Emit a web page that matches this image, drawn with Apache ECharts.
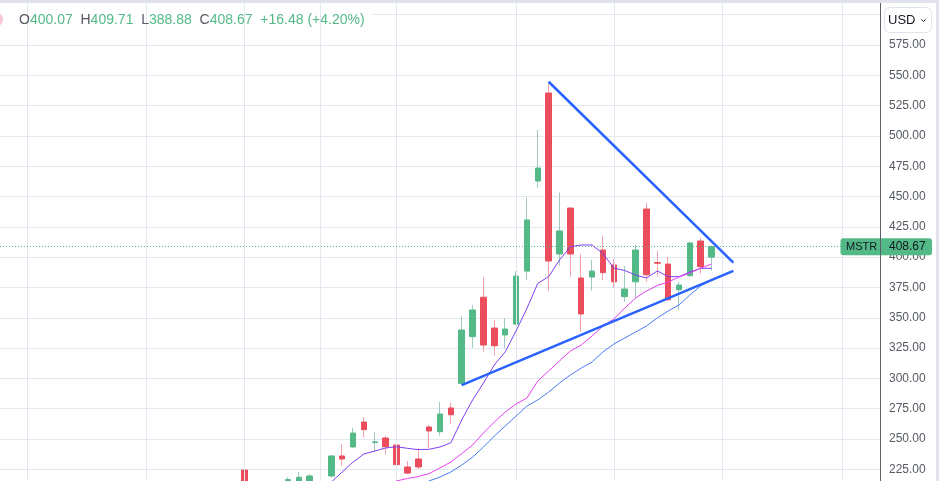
<!DOCTYPE html>
<html>
<head>
<meta charset="utf-8">
<script src="https://cdn.jsdelivr.net/npm/echarts@6/dist/echarts.min.js"></script>
<style>
  html, body { margin: 0; padding: 0; background: #fff; }
  #chart { width: 939px; height: 481px; }
</style>
</head>
<body>
<div id="chart"></div>
<script>
// daily sessions, the last 15 are empty space to the right of the last bar
const dates = [
  "2024-09-12", "2024-09-13", "2024-09-16", "2024-09-17", "2024-09-18", "2024-09-19", "2024-09-20",
  "2024-09-23", "2024-09-24", "2024-09-25", "2024-09-26", "2024-09-27", "2024-09-30", "2024-10-01",
  "2024-10-02", "2024-10-03", "2024-10-04", "2024-10-07", "2024-10-08", "2024-10-09", "2024-10-10",
  "2024-10-11", "2024-10-14", "2024-10-15", "2024-10-16", "2024-10-17", "2024-10-18", "2024-10-21",
  "2024-10-22", "2024-10-23", "2024-10-24", "2024-10-25", "2024-10-28", "2024-10-29", "2024-10-30",
  "2024-10-31", "2024-11-01", "2024-11-04", "2024-11-05", "2024-11-06", "2024-11-07", "2024-11-08",
  "2024-11-11", "2024-11-12", "2024-11-13", "2024-11-14", "2024-11-15", "2024-11-18", "2024-11-19",
  "2024-11-20", "2024-11-21", "2024-11-22", "2024-11-25", "2024-11-26", "2024-11-27", "2024-11-29",
  "2024-12-02", "2024-12-03", "2024-12-04", "2024-12-05", "2024-12-06", "2024-12-09", "2024-12-10",
  "2024-12-11", "2024-12-12", "2024-12-13", "2024-12-16", "2024-12-17", "2024-12-18", "2024-12-19",
  "2024-12-20", "2024-12-23", "2024-12-24", "2024-12-26", "2024-12-27", "2024-12-30", "2024-12-31",
  "2025-01-02", "2025-01-03", "2025-01-06", "2025-01-07"
];

// bars before 2024-10-14 sit below the visible price range
const pad = n => new Array(n).fill(null);

const opens = pad(22).concat([
  224.4, null, null, null, 214.0, 213.0, 213.5, 214.0, 219.5, 236.0,
  243.4, 264.0, 247.0, 250.8, 245.0, 226.9, 233.5, 259.9, 256.0, 275.6,
  295.9, 334.4, 366.9, 341.5, 335.8, 344.8, 388.5, 462.8, 535.4, 402.6,
  440.5, 382.8, 383.6, 405.9, 393.5, 367.4, 379.7, 439.7, 395.5, 394.3,
  373.1, 384.7, 413.3, 400.07
]);
const closes = pad(22).concat([
  208.0, null, null, null, 216.5, 218.4, 219.5, 209.0, 236.0, 233.5,
  254.9, 257.7, 247.6, 243.6, 228.8, 221.9, 226.9, 256.6, 270.6, 270.0,
  339.9, 356.4, 327.5, 326.9, 340.7, 384.4, 430.7, 473.5, 396.8, 421.6,
  402.6, 353.1, 388.5, 387.2, 379.7, 373.7, 405.9, 385.5, 395.0, 364.9,
  377.0, 411.7, 392.19, 408.67
]);
const lows = pad(22).concat([
  205.0, null, null, null, 212.0, 211.0, 210.0, 207.0, 218.1, 227.7,
  242.8, 251.1, 239.0, 237.0, 226.1, 221.1, 225.2, 242.6, 252.7, 262.6,
  294.5, 325.3, 322.0, 318.7, 324.8, 344.0, 381.4, 457.3, 372.3, 392.9,
  383.9, 338.5, 372.3, 381.1, 374.8, 363.2, 365.7, 379.7, 383.9, 364.0,
  356.6, 384.0, 386.3, 388.88
]);
const highs = pad(22).concat([
  226.6, null, null, null, 218.4, 222.8, 220.9, 222.5, 236.5, 245.9,
  259.3, 268.1, 255.8, 252.5, 255.8, 231.8, 242.8, 261.5, 280.5, 279.7,
  351.4, 360.5, 383.4, 348.1, 349.5, 388.5, 449.0, 504.9, 543.4, 453.2,
  441.0, 402.6, 397.6, 417.7, 398.5, 392.7, 410.0, 444.7, 405.3, 400.1,
  379.5, 412.7, 415.8, 409.71
]);

// moving averages
const maFast = pad(29).concat([
  206.0, 214.5, 222.8, 231.0, 237.6, 240.1, 242.6, 243.6, 242.3, 241.2,
  241.5, 243.4, 246.9, 265.7, 282.2, 296.2, 311.1, 321.8, 339.1, 357.6,
  378.4, 383.9, 397.6, 408.6, 410.0, 410.0, 403.0, 391.0, 389.0, 385.3,
  382.8, 388.6, 383.9, 383.9, 387.7, 390.8, 390.8
]);
const maMid = pad(35).concat([
  210.0, 215.4, 217.4, 219.0, 221.5, 226.1, 231.0, 238.0, 245.0, 254.9,
  264.0, 272.2, 278.8, 283.8, 297.8, 306.1, 314.3, 322.6, 327.5, 335.0,
  343.2, 349.0, 358.0, 366.3, 372.0, 376.6, 379.5, 383.6, 386.9, 391.0,
  394.3
]);
const maSlow = pad(38).concat([
  211.0, 215.4, 218.6, 222.8, 228.5, 235.0, 243.4, 252.4, 260.7, 268.9,
  277.2, 282.2, 288.7, 296.2, 302.8, 308.5, 313.5, 321.8, 328.3, 333.3,
  338.2, 343.2, 349.8, 355.6, 360.5, 368.8, 376.3, 381.1
]);

// hand-drawn triangle: [date index, price]
const upperTrend = [[50, 544.7], [67, 395.4]];
const lowerTrend = [[42, 294.5], [67, 388.6]];

// vertical grid lines of the time scale
const timeGrid = [2, 13, 22, 29, 36, 47, 56, 66, 77];

const yTicks = { min: 200, max: 625, step: 25 };
const ticker = "MSTR";

const GREEN = "#53b987";
const RED = "#eb4d5c";
const GREEN_WICK = "#a0c9c1";
const RED_WICK = "#f5a2ab";
const GRID = "#e1e8ef";
const FONT = "'Liberation Sans', Arial, sans-serif";

const wickData = [];
const bodyData = [];
for (let i = 0; i < opens.length; i++) {
  if (opens[i] == null) {
    wickData.push("-");
    bodyData.push("-");
    continue;
  }
  const o = opens[i], c = closes[i];
  wickData.push([o, c, lows[i], highs[i]]);
  bodyData.push([o, c, Math.min(o, c), Math.max(o, c)]);
}

const last = opens.length - 1;
const lastClose = closes[last];
const change = lastClose - closes[last - 1];
const changePct = change / closes[last - 1] * 100;
const sign = v => (v >= 0 ? "+" : "") + v.toFixed(2);

const chart = echarts.init(document.getElementById("chart"), null, { renderer: "canvas" });

const option = {
  animation: false,
  backgroundColor: "#ffffff",
  grid: {
    left: 0, right: 59, top: -15.6, bottom: -18.6,
    containLabel: false,
    outerBoundsMode: "none"
  },
  xAxis: {
    type: "category",
    data: dates,
    boundaryGap: true,
    axisLine: { show: false },
    axisTick: { show: false },
    axisLabel: { show: false },
    splitLine: { show: false }
  },
  yAxis: {
    type: "value",
    position: "right",
    min: yTicks.min,
    max: yTicks.max,
    interval: yTicks.step,
    axisLine: { show: true, lineStyle: { color: "#5d606b", width: 1 } },
    axisTick: { show: false },
    axisLabel: {
      color: "#555a63",
      fontSize: 12,
      fontFamily: FONT,
      margin: 9,
      formatter: v => v.toFixed(2)
    },
    splitLine: { show: true, lineStyle: { color: GRID, width: 1 } }
  },
  series: [
    {
      name: "timegrid",
      type: "line",
      data: [],
      z: 1.5,
      silent: true,
      markLine: {
        silent: true,
        symbol: "none",
        label: { show: false },
        lineStyle: { color: GRID, width: 1, type: "solid" },
        data: timeGrid.map(i => ({ xAxis: dates[i] }))
      }
    },
    {
      name: "wicks",
      type: "candlestick",
      data: wickData,
      barWidth: 1,
      z: 3,
      itemStyle: {
        color: GREEN_WICK, color0: RED_WICK,
        borderColor: GREEN_WICK, borderColor0: RED_WICK, borderWidth: 1
      }
    },
    {
      name: ticker,
      type: "candlestick",
      data: bodyData,
      barWidth: 6,
      z: 4,
      itemStyle: {
        color: GREEN, color0: RED,
        borderColor: GREEN, borderColor0: RED, borderWidth: 1
      },
      markLine: {
        silent: true,
        symbol: "none",
        label: { show: false },
        lineStyle: { color: GREEN, width: 1, type: [1, 2] },
        data: [{ yAxis: lastClose }]
      }
    },
    {
      name: "MA fast", type: "line", data: maFast, showSymbol: false, z: 5,
      lineStyle: { color: "#7e3ff5", width: 1 }
    },
    {
      name: "MA mid", type: "line", data: maMid, showSymbol: false, z: 5,
      lineStyle: { color: "#e83ef2", width: 1 }
    },
    {
      name: "MA slow", type: "line", data: maSlow, showSymbol: false, z: 5,
      lineStyle: { color: "#4a7bf4", width: 1 }
    },
    {
      name: "upper trend", type: "line", showSymbol: false, z: 6,
      data: upperTrend.map(p => [dates[p[0]], p[1]]),
      lineStyle: { color: "#2962ff", width: 2.5 }
    },
    {
      name: "lower trend", type: "line", showSymbol: false, z: 6,
      data: lowerTrend.map(p => [dates[p[0]], p[1]]),
      lineStyle: { color: "#2962ff", width: 2.5 }
    }
  ]
};

chart.setOption(option);

// overlay: legend line, currency button, last price tag
const yLast = chart.convertToPixel({ yAxisIndex: 0 }, lastClose);
const gridRight = 880;

chart.setOption({
  graphic: [
    {
      type: "rect", z: 1, silent: true,
      shape: { x: 0, y: 12, width: 372, height: 6 },
      style: { fill: "#ffffff" }
    },
    {
      type: "circle", z: 100, silent: true,
      shape: { cx: -4, cy: 19.5, r: 7 },
      style: { fill: "#f8c6d3" }
    },
    {
      type: "text", z: 100, silent: true,
      x: 19, y: 20,
      style: {
        text: "{g|O}{v|" + opens[last].toFixed(2) + "}  {g|H}{v|" + highs[last].toFixed(2) +
              "}  {g|L}{v|" + lows[last].toFixed(2) + "}  {g|C}{v|" + lastClose.toFixed(2) +
              "}  {v|" + sign(change) + " (" + sign(changePct) + "%)}",
        verticalAlign: "middle",
        font: "14px " + FONT,
        rich: {
          g: { fill: "#555a63", fontSize: 14, fontFamily: FONT },
          v: { fill: GREEN, fontSize: 14, fontFamily: FONT }
        }
      }
    },
    {
      type: "rect", z: 100, silent: true,
      shape: { x: 0, y: 0, width: 939, height: 3 },
      style: { fill: "#e0e3eb" }
    },
    {
      type: "rect", z: 100, silent: true,
      shape: { x: 936, y: 0, width: 3, height: 481 },
      style: { fill: "#e0e3eb" }
    },
    {
      type: "rect", z: 100, silent: true,
      shape: { x: 884.5, y: 7.5, width: 47, height: 25, r: 5 },
      style: { fill: "#ffffff", stroke: "#e0e3eb", lineWidth: 1 }
    },
    {
      type: "text", z: 101, silent: true,
      x: 888, y: 20.5,
      style: { text: "USD", font: "13px " + FONT, fill: "#131722", verticalAlign: "middle" }
    },
    {
      type: "polyline", z: 101, silent: true,
      shape: { points: [[921.5, 19.5], [923.5, 21.5], [925.5, 19.5]] },
      style: { stroke: "#131722", lineWidth: 1, fill: null }
    },
    {
      type: "rect", z: 100, silent: true,
      shape: { x: 840.5, y: yLast - 8.5, width: 91.5, height: 17, r: 3 },
      style: { fill: GREEN }
    },
    {
      type: "text", z: 101, silent: true,
      x: 846, y: yLast + 0.5,
      style: { text: ticker, font: "11px " + FONT, fill: "#131722", verticalAlign: "middle" }
    },
    {
      type: "text", z: 101, silent: true,
      x: 889, y: yLast + 0.5,
      style: { text: lastClose.toFixed(2), font: "12px " + FONT, fill: "#131722", verticalAlign: "middle" }
    },
    {
      type: "line", z: 101, silent: true,
      shape: { x1: gridRight + 0.5, y1: yLast - 8.5, x2: gridRight + 0.5, y2: yLast + 8.5 },
      style: { stroke: "#5d606b", lineWidth: 1 }
    }
  ]
});
</script>
</body>
</html>
